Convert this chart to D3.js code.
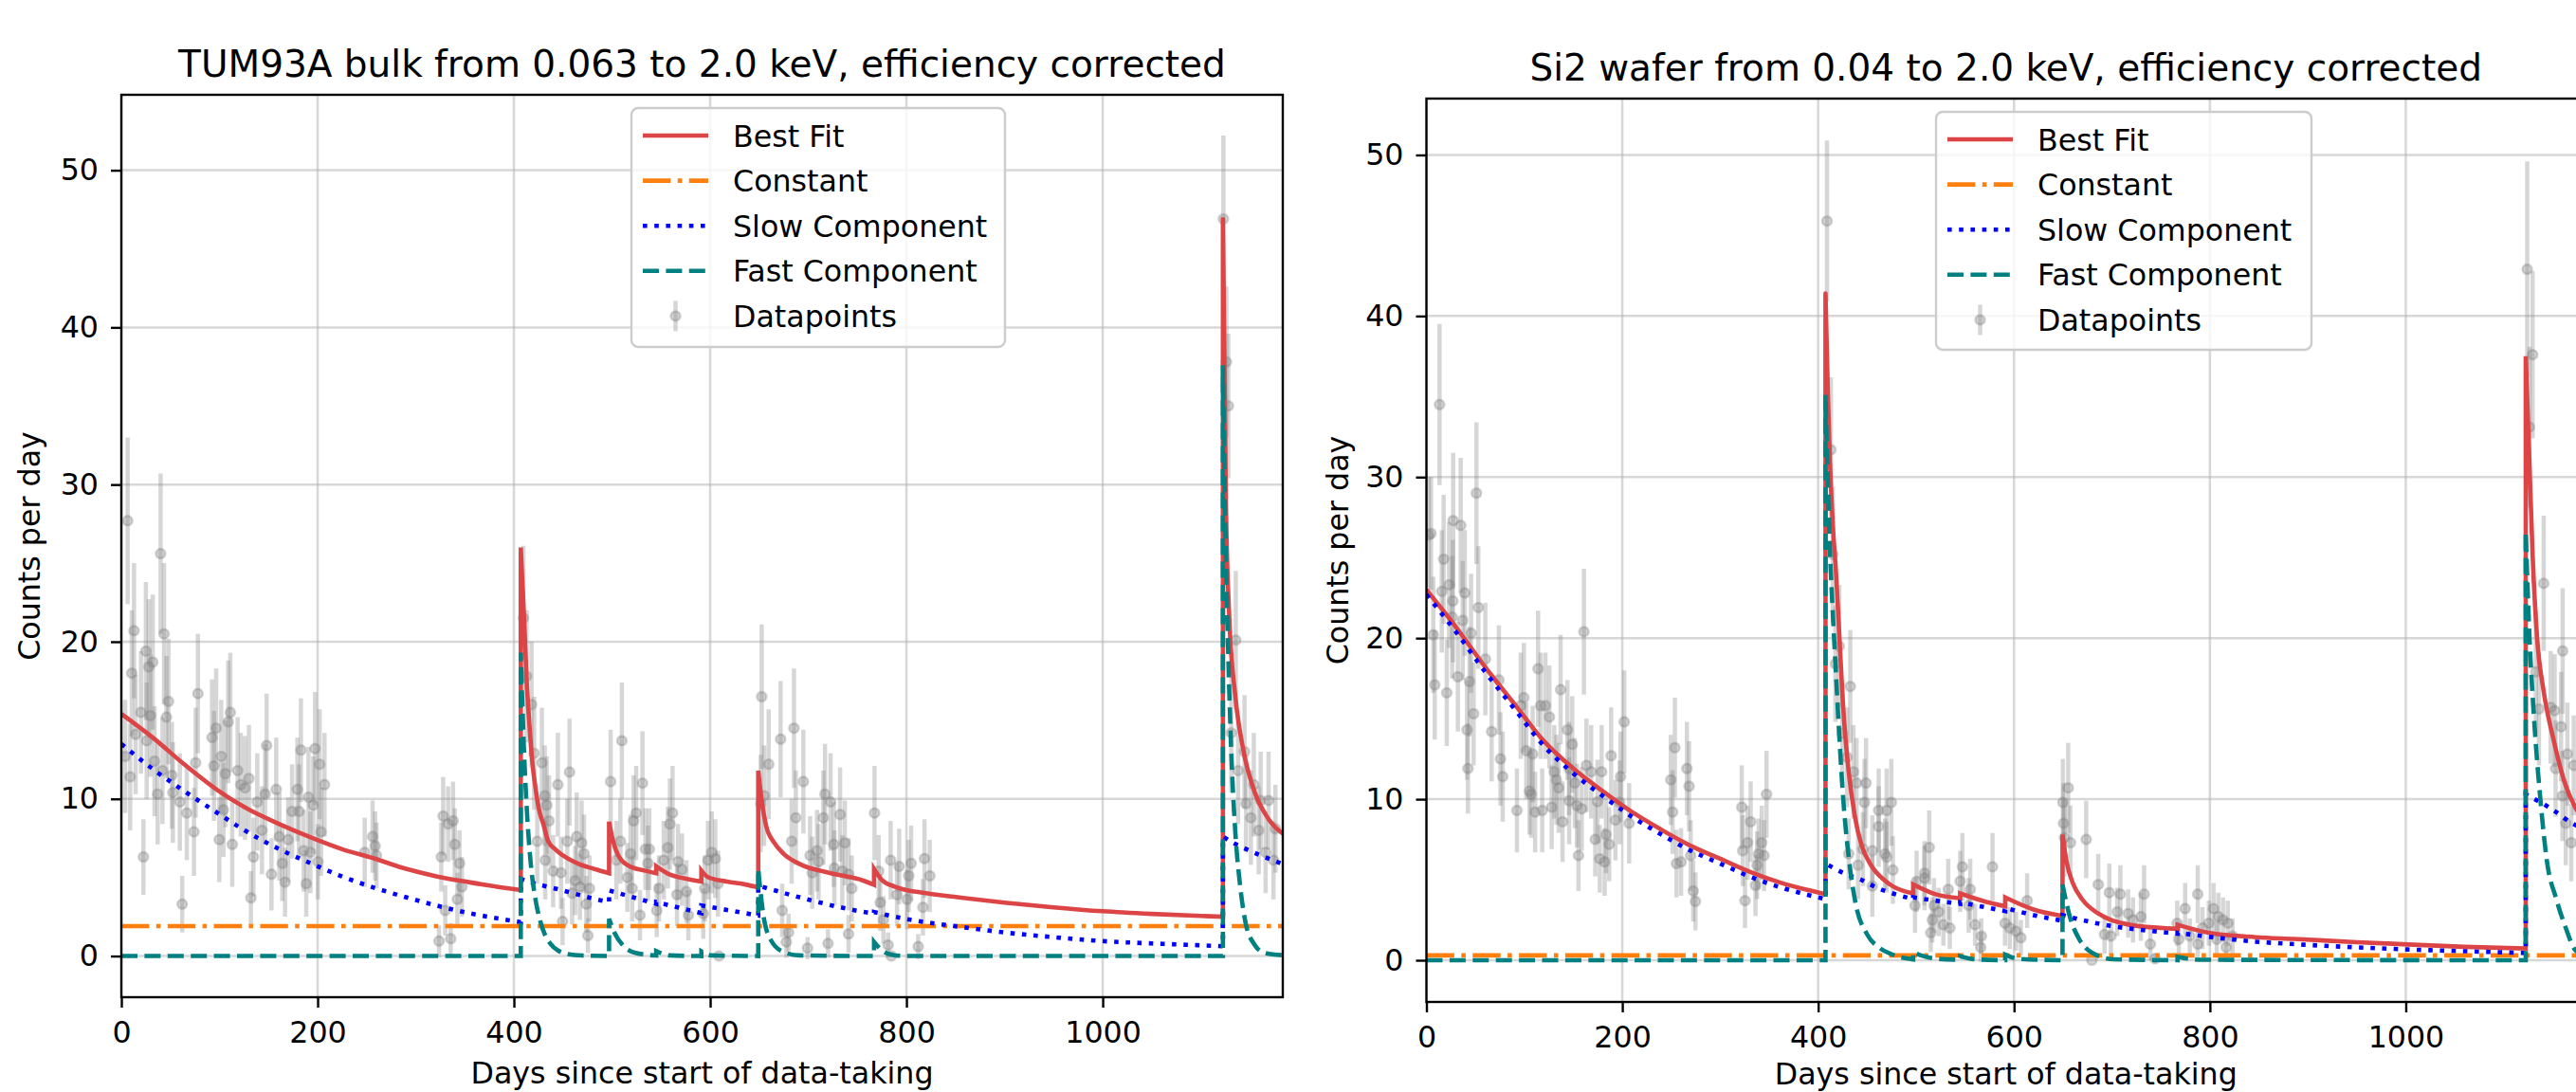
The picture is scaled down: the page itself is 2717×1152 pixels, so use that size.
<!DOCTYPE html>
<html>
<head>
<meta charset="utf-8">
<script src="https://cdn.jsdelivr.net/npm/d3@7"></script>
<style>
  body { margin: 0; background: #fff; }
  svg { display: block; font-family: 'DejaVu Sans', sans-serif; }
</style>
</head>
<body>
<div id="chart"></div>
<script>
// ---- data ----
const xTicks = [0, 200, 400, 600, 800, 1000];
const yTicks = [0, 10, 20, 30, 40, 50];
const legendLabels = ['Best Fit', 'Constant', 'Slow Component', 'Fast Component', 'Datapoints'];
const titles = [
    'TUM93A bulk from 0.063 to 2.0 keV, efficiency corrected',
    'Si2 wafer from 0.04 to 2.0 keV, efficiency corrected'
];
const xLabel = 'Days since start of data-taking';
const yLabel = 'Counts per day';

// curves: [day, counts/day]; a repeated day marks a jump
const leftBestFit = [
    [0, 15.4], [32, 13.9], [64, 12.2], [97, 10.6], [129, 9.35], [161, 8.4], [193, 7.55], [225, 6.8],
    [258, 6.2], [290, 5.55], [322, 5.06], [354, 4.7], [386, 4.38], [407, 4.2],
    [407, 26.0], [410.5, 21.3], [413, 17.5], [415.5, 15.0], [419, 12.2], [422, 10.7], [426, 9.2],
    [430, 8.4], [435, 7.3], [442, 6.8], [450, 6.4], [466, 5.86], [482, 5.54], [497, 5.27],
    [497, 8.55], [501, 7.34], [507.5, 6.28], [520, 5.65], [533, 5.44], [545, 5.27],
    [545, 5.71], [559, 5.18], [572, 4.97], [591, 4.74],
    [591, 5.44], [598, 5.01], [617, 4.74], [636, 4.55], [649, 4.38],
    [649, 11.8], [652.5, 9.9], [657, 8.3], [665, 7.23], [675, 6.5], [691, 5.86], [723, 5.27], [756, 4.8], [767, 4.53],
    [767, 5.54], [775, 4.84], [788, 4.42], [820, 4.0], [852, 3.74], [900, 3.4], [950, 3.1],
    [1000, 2.85], [1050, 2.68], [1100, 2.55], [1122.5, 2.5],
    [1122.5, 47.0], [1124, 38.0], [1125.6, 28.7], [1128.8, 21.8], [1135, 16.6], [1143, 13.2],
    [1155, 10.4], [1166, 9.0], [1180, 7.96], [1183.5, 7.8]
];
const leftConstant = [[0, 1.9], [1183.5, 1.9]];
const leftSlow = [
    [0, 13.5], [32, 11.9], [64, 10.5], [97, 9.14], [129, 7.87], [161, 6.8], [193, 5.9], [225, 5.06],
    [258, 4.34], [290, 3.74], [322, 3.2], [354, 2.73], [386, 2.37], [407, 2.16],
    [407, 4.9], [417, 4.7], [450, 4.17], [482, 3.64], [497, 3.43],
    [497, 4.17], [545, 3.32],
    [545, 3.43], [591, 2.73],
    [591, 3.22], [649, 2.58],
    [649, 4.48], [691, 3.74], [740, 3.0], [767, 2.69],
    [767, 2.8], [804, 2.31], [852, 1.88], [900, 1.5], [950, 1.2], [1000, 0.95], [1050, 0.8], [1100, 0.68], [1122.5, 0.62],
    [1122.5, 7.6], [1133, 7.2], [1150, 6.7], [1165, 6.3], [1183.5, 5.85]
];
const leftFast = [
    [0, 0], [407, 0],
    [407, 19.3], [410, 13.5], [413, 9.5], [417, 6.0], [422, 3.6], [427, 2.2], [432, 1.3], [437, 0.8],
    [445, 0.35], [455, 0.12], [470, 0.03], [497, 0],
    [497, 2.37], [503, 1.42], [511, 0.68], [524, 0.2], [545, 0.03],
    [545, 0.32], [559, 0.04], [591, 0],
    [591, 0.3], [601, 0.04], [649, 0],
    [649, 5.54], [654, 2.7], [662, 1.0], [675, 0.25], [691, 0.04], [767, 0],
    [767, 0.9], [775, 0.36], [785, 0.08], [800, 0], [1122.5, 0],
    [1122.5, 37.6], [1125, 27], [1128, 19], [1131, 13], [1135, 8], [1140, 4.5], [1146, 2.0],
    [1155, 0.7], [1165, 0.2], [1183.5, 0.05]
];
// datapoints: [day, counts/day, error]
const leftPoints = [
    [3.9, 12.7, 3.6], [6.4, 27.7, 5.3], [9, 11.4, 3.4], [10.6, 18.0, 4.0], [12.9, 20.7, 4.3], [14.5, 14.1, 3.8],
    [20, 15.5, 3.9], [22.5, 6.3, 2.4], [25, 19.4, 4.4], [25.8, 13.7, 3.7], [28, 18.4, 4.3], [29.6, 15.3, 3.9],
    [32, 18.7, 4.3], [33.8, 12.4, 3.5], [37, 10.3, 3.2], [40, 25.6, 5.1], [41.9, 11.8, 3.4], [43.5, 20.5, 4.5],
    [46, 15.2, 3.9], [48, 16.2, 4.0], [51.5, 11.5, 3.4], [52.5, 10.4, 3.2], [59.6, 9.8, 3.1], [62, 3.3, 1.8],
    [66.7, 9.1, 3.0], [74, 7.9, 2.8], [75.7, 12.3, 3.5], [78, 16.7, 3.8], [92.4, 13.9, 3.7], [94.4, 12.1, 3.5],
    [96.6, 14.5, 3.8], [99.8, 7.4, 2.7], [101.8, 12.7, 3.6], [104, 9.3, 3.0], [106, 11.6, 3.4], [108.9, 14.9, 3.9],
    [111, 15.5, 3.8], [113, 7.1, 2.7], [118.5, 11.8, 3.4], [121.7, 10.9, 3.3], [126, 10.7, 3.3], [130, 11.3, 3.4],
    [132, 3.7, 1.7], [134.6, 6.3, 2.5], [138.5, 9.8, 3.1], [143.3, 8.0, 2.8], [146.5, 10.3, 3.2], [148, 13.4, 3.3],
    [153, 5.2, 2.3], [157.8, 10.6, 3.3], [161, 7.6, 2.8], [164, 5.9, 2.4], [166.8, 4.7, 2.2], [170, 7.4, 2.7],
    [174, 9.2, 3.0], [179.4, 10.6, 3.3], [181, 9.2, 3.0], [183, 13.1, 3.3], [185.8, 6.7, 2.6], [188.4, 4.6, 2.1],
    [190.7, 10.1, 3.2], [192.6, 6.6, 2.6], [195.5, 9.6, 3.1], [197.4, 13.2, 3.6], [200.3, 6.0, 2.4], [202, 12.2, 3.5],
    [203.5, 7.9, 2.8], [207, 10.9, 3.3],
    [248, 6.6, 2.2], [256, 7.6, 2.3], [258.6, 7.0, 2.2], [260, 6.4, 2.1],
    [323.7, 0.95, 1.0], [326, 6.3, 2.2], [327.9, 8.9, 2.5], [330, 2.9, 1.6], [333, 8.4, 2.4], [335.6, 1.1, 1.0],
    [338, 8.6, 2.5], [339.8, 7.1, 2.3], [342.4, 3.6, 1.7], [344.6, 5.9, 2.1], [347, 4.4, 1.9],
    [409.7, 21.5, 4.6], [412.9, 17.8, 4.2], [418, 16.0, 4.0], [420.6, 12.9, 3.6], [423.8, 7.3, 2.7], [428.5, 12.3, 3.5],
    [431.5, 10.2, 3.2], [431.9, 6.1, 2.5], [433.5, 9.6, 3.1], [435.8, 8.6, 2.9], [440, 5.4, 2.3], [444.8, 10.9, 3.3],
    [448, 5.3, 2.3], [449.6, 2.2, 1.5], [454.4, 7.3, 2.7], [456.7, 11.7, 3.4], [459.3, 4.0, 2.0], [462.5, 4.8, 2.2],
    [464, 7.6, 2.8], [467.3, 4.4, 2.1], [469, 7.2, 2.7], [471.5, 6.5, 2.5], [473.8, 3.3, 1.8], [475.4, 1.3, 1.1],
    [477, 4.3, 2.1],
    [498.6, 11.1, 3.3], [504.4, 6.1, 2.5], [508.5, 7.3, 2.7], [510, 13.7, 3.7], [515.6, 5.0, 2.2], [518.9, 6.5, 2.5],
    [520.5, 4.3, 2.1], [522, 8.6, 2.9], [524.6, 9.1, 3.0], [528.5, 2.6, 1.6], [531, 11.0, 3.3], [534, 6.8, 2.6],
    [536.6, 5.9, 2.4], [538, 6.8, 2.6], [545.6, 2.9, 1.7], [547.8, 4.3, 2.1], [552.7, 6.1, 2.5], [556.9, 6.9, 2.6],
    [559, 8.4, 2.9], [561.7, 9.1, 3.0], [566.2, 3.9, 2.0], [567.2, 6.0, 2.4], [571.3, 5.5, 2.3], [575.8, 4.1, 2.0],
    [577.8, 2.6, 1.6],
    [593, 2.7, 1.6], [594.5, 4.3, 2.1], [597.8, 6.1, 2.5], [601.6, 6.6, 2.6], [605.2, 6.2, 2.5], [608, 4.6, 2.1],
    [609, 0.0, 0],
    [651.5, 9.7, 3.1], [652.5, 16.5, 4.6], [655, 10.2, 3.2], [659.6, 12.2, 3.5], [671.8, 13.8, 3.7], [673.4, 2.9, 1.7],
    [677.6, 0.9, 1.0], [679.9, 1.5, 1.2], [683, 7.3, 2.7], [685.4, 14.5, 3.8], [687.3, 8.8, 3.0], [695, 11.1, 3.3],
    [699.2, 0.5, 0.7], [701.8, 6.4, 2.5], [704, 5.3, 2.3], [708.9, 6.7, 2.6], [710.5, 6.0, 2.4], [715.3, 8.8, 3.0],
    [717, 10.3, 3.2], [720.1, 0.8, 0.9], [722.7, 9.8, 3.1], [726, 7.1, 2.7], [726.6, 5.6, 2.4], [732.4, 9.0, 3.0],
    [734.6, 5.4, 2.3], [737.2, 7.2, 2.7], [741, 5.2, 2.3], [741, 1.4, 1.2], [744.3, 4.3, 2.1],
    [767.5, 9.1, 3.0], [771.7, 5.4, 2.3], [773.3, 3.4, 1.8], [776.5, 2.3, 1.5], [781.3, 0.7, 0.8], [783.9, 6.1, 2.5],
    [784.6, 0.0, 0], [790.4, 3.9, 2.0], [792.6, 5.7, 2.4], [800.7, 3.6, 1.9], [802.3, 5.1, 2.3], [804.8, 5.9, 2.4],
    [812, 0.6, 0.8], [816.8, 3.1, 1.8], [818.4, 6.2, 2.5], [823.8, 5.1, 2.3],
    [1123, 46.9, 5.3], [1126, 37.8, 4.8], [1128, 35.0, 4.6], [1131, 14.2, 3.8], [1135.6, 20.1, 4.4], [1138, 11.8, 3.4],
    [1144.5, 13.0, 3.6], [1146, 9.7, 3.1], [1151, 8.8, 3.0], [1154, 10.9, 3.3], [1159, 8.0, 2.8], [1161, 9.9, 3.1],
    [1166, 6.6, 2.6], [1169, 9.9, 3.1], [1174, 6.1, 2.5], [1176, 8.1, 2.8]
];

const rightBestFit = [
    [0, 23.0], [30, 20.7], [60, 18.2], [90, 15.9], [120, 13.6], [150, 11.9], [180, 10.5], [210, 9.2], [240, 8.1],
    [270, 7.1], [300, 6.3], [330, 5.5], [360, 4.85], [390, 4.35], [407.5, 4.1],
    [407.5, 41.4], [410, 35.0], [412, 31.0], [415, 27.0], [418.3, 24.0], [421.5, 20.3], [426, 15.3], [431, 11.8],
    [437.6, 8.9], [444, 7.2], [454, 5.9], [467, 5.0], [476, 4.6], [497, 4.15],
    [497, 4.7], [520, 4.1], [545, 3.85],
    [545, 4.15], [570, 3.65], [591, 3.35],
    [591, 3.9], [620, 3.15], [649.5, 2.75],
    [649.5, 7.8], [653.7, 6.1], [660, 4.8], [670, 3.75], [686, 2.9], [718, 2.2], [767, 1.95],
    [767, 2.2], [799, 1.7], [847, 1.43], [886, 1.32], [950, 1.12], [1002, 0.98], [1060, 0.83], [1122.5, 0.73],
    [1122.5, 37.5], [1126, 31.4], [1129.5, 25.2], [1134, 20.1], [1140.8, 16.7], [1150.5, 13.8], [1163, 10.9],
    [1173, 9.5], [1183.5, 8.6]
];
const rightConstant = [[0, 0.3], [1183.5, 0.3]];
const rightSlow = [
    [0, 22.7], [30, 20.4], [60, 17.9], [90, 15.6], [120, 13.3], [150, 11.6], [180, 10.2], [210, 8.9], [240, 7.8],
    [270, 6.8], [300, 6.0], [330, 5.2], [360, 4.55], [390, 4.05], [407.5, 3.8],
    [407.5, 6.0], [430, 5.3], [444, 5.0], [460, 4.5], [476, 4.15], [497, 3.8],
    [497, 3.9], [520, 3.7], [545, 3.5],
    [545, 3.6], [570, 3.3], [591, 3.05],
    [591, 3.25], [620, 2.8], [649.5, 2.45],
    [649.5, 2.8], [680, 2.35], [702, 2.1], [735, 1.85], [767, 1.65],
    [767, 1.7], [800, 1.45], [847, 1.15], [886, 1.0], [950, 0.8], [1002, 0.67], [1060, 0.56], [1122.5, 0.45],
    [1122.5, 10.3], [1150, 9.35], [1170, 8.5], [1183.5, 8.1]
];
const rightFast = [
    [0, 0], [407.5, 0],
    [407.5, 35.1], [410, 29.5], [412, 25.5], [415, 21.5], [418, 18.0], [421.5, 14.0], [425, 10.5], [431, 6.5],
    [438, 3.6], [450, 1.6], [462, 0.8], [476, 0.35], [497, 0.05],
    [497, 0.5], [505, 0.3], [520, 0.1], [545, 0.03],
    [545, 0.25], [560, 0.06], [591, 0],
    [591, 0.35], [605, 0.08], [649.5, 0],
    [649.5, 4.7], [657, 2.7], [666.6, 1.3], [679.5, 0.47], [702, 0.06], [767, 0],
    [767, 0.2], [790, 0.03], [1122.5, 0],
    [1122.5, 26.6], [1126.3, 20.1], [1131, 15.0], [1137.6, 9.9], [1144, 6.2], [1153.7, 3.8], [1163.4, 2.0],
    [1173, 0.64], [1183.5, 0.3]
];
const rightPoints = [
    [2.4, 26.4, 3.6], [4.7, 26.5, 3.5], [7, 20.2, 3.6], [8.5, 17.1, 3.4], [13.4, 34.5, 5.0], [15.7, 22.9, 3.8],
    [17.6, 24.9, 4.0], [20.8, 16.6, 3.3], [23.1, 23.3, 3.9], [26.3, 21.3, 3.8], [27, 22.3, 3.8], [27.3, 27.3, 4.2],
    [32.1, 17.6, 3.4], [35, 27.0, 4.2], [37, 21.1, 3.7], [39.2, 22.8, 3.9], [41.5, 14.3, 3.1], [42.4, 11.9, 2.8],
    [44, 17.3, 3.4], [45.6, 20.3, 3.7], [48.2, 15.3, 3.2], [51.1, 29.0, 4.4], [53, 21.9, 3.8], [60.2, 18.7, 3.5],
    [66.6, 14.2, 3.1], [74, 17.4, 3.4], [75.6, 12.5, 2.9], [77.9, 11.4, 2.8], [92.4, 9.3, 2.6], [96.3, 15.8, 3.3],
    [99.5, 16.3, 3.4], [102, 13.0, 3.0], [105.3, 10.5, 2.7], [107, 10.3, 2.7], [108.5, 12.8, 3.0], [111, 9.2, 2.5],
    [114, 18.1, 3.6], [116.6, 15.8, 3.3], [118.2, 9.3, 2.6], [121.5, 15.8, 3.3], [125.6, 15.1, 3.2], [127.9, 9.5, 2.6],
    [130.5, 11.7, 2.9], [132.7, 11.2, 2.8], [135, 10.7, 2.8], [137, 16.8, 3.4], [139, 8.6, 2.5], [144, 14.3, 3.1],
    [145.7, 11.9, 2.9], [145.7, 9.9, 2.7], [148.9, 13.4, 3.0], [151.5, 11.0, 2.8], [153.7, 9.6, 2.6], [155.3, 6.5, 2.2],
    [158.6, 9.4, 2.6], [160.8, 20.4, 3.9], [163.4, 12.1, 2.9], [168.2, 11.7, 2.9], [172.4, 7.5, 2.3], [174.7, 9.85, 2.6],
    [177, 6.3, 2.1], [178.9, 11.7, 2.9], [182, 6.1, 2.1], [183.4, 7.8, 2.4], [186.6, 7.2, 2.3], [188.6, 12.7, 3.0],
    [193, 8.7, 2.5], [197.3, 9.8, 2.6], [198.2, 11.4, 2.8], [202, 14.8, 3.2], [207, 8.5, 2.5],
    [249.5, 11.2, 2.8], [251.4, 9.2, 2.6], [253.7, 13.2, 3.1], [255.3, 6.0, 2.1], [260, 6.1, 2.1], [266, 11.9, 2.9],
    [268.2, 10.8, 2.8], [269.8, 6.5, 2.2], [272.4, 4.3, 1.9], [274.7, 3.65, 1.8],
    [322, 9.5, 2.6], [323, 6.8, 2.2], [325.3, 3.7, 1.7], [327.9, 7.3, 2.3], [331.1, 8.6, 2.5], [336, 4.65, 1.9],
    [337.6, 5.9, 2.1], [339.2, 6.6, 2.2], [342.4, 7.3, 2.3], [344.7, 6.5, 2.2], [347.3, 10.3, 2.7],
    [409, 45.9, 5.0], [413, 31.7, 4.5], [415, 25.2, 4.2], [417.6, 18.4, 3.6], [421.5, 19.5, 3.8], [424.7, 14.1, 3.3],
    [429.5, 12.6, 3.1], [431.2, 6.6, 2.2], [432.8, 17.0, 3.5], [436, 11.7, 2.9], [439.2, 11.0, 2.8], [440.8, 5.9, 2.1],
    [445.7, 6.9, 2.3], [447.3, 9.8, 2.7], [448.9, 11.0, 2.8], [455.3, 6.8, 2.2], [455.3, 4.6, 1.9], [461.8, 9.3, 2.6],
    [461.8, 8.3, 2.5], [468.3, 6.6, 2.2], [469.9, 9.3, 2.6], [469.9, 6.4, 2.2], [474.7, 9.8, 2.7], [476.3, 5.6, 2.1],
    [498.9, 3.4, 1.7], [500.5, 4.9, 1.9], [508.6, 5.4, 2.0], [508.6, 5.1, 2.0], [513.4, 7.0, 2.3], [515, 1.7, 1.2],
    [516.6, 2.5, 1.4], [518.3, 3.4, 1.7], [523, 3.0, 1.5], [527.9, 2.2, 1.3], [532.8, 4.4, 1.9], [534.4, 2.0, 1.3],
    [545, 4.9, 1.9], [547.3, 5.8, 2.1], [553.7, 3.4, 1.7], [555.3, 4.4, 1.9], [560.2, 2.2, 1.3], [566, 0.8, 0.9],
    [566.6, 1.5, 1.1], [578, 5.8, 2.1], [590.8, 2.3, 1.4], [595.7, 2.0, 1.3], [602, 1.8, 1.2], [607, 1.4, 1.1],
    [613.4, 3.7, 1.7],
    [649.9, 9.8, 2.7], [650.5, 8.5, 2.5], [651.5, 7.6, 2.4], [655.3, 10.7, 2.8], [657.6, 7.3, 2.3], [673.7, 7.5, 2.4],
    [679.5, 0.0, 0], [686, 4.7, 1.9], [692.4, 1.6, 1.2], [697.3, 4.2, 1.8], [698.9, 1.5, 1.1], [705.4, 3.0, 1.5],
    [708.6, 4.1, 1.8], [716.6, 2.9, 1.5], [721.5, 2.5, 1.4], [729.5, 2.7, 1.5], [732.8, 4.1, 1.8], [739.2, 1.0, 1.0],
    [744, 0.1, 0.3],
    [766.6, 2.3, 1.4], [768.2, 1.3, 1.1], [774.7, 3.2, 1.6], [779.5, 1.5, 1.1], [787.6, 4.1, 1.8], [787.6, 1.0, 1.0],
    [792.4, 2.0, 1.3], [798.9, 2.3, 1.4], [803.7, 3.2, 1.6], [807, 1.3, 1.1], [808.6, 2.7, 1.5], [813.4, 2.5, 1.4],
    [816.6, 0.8, 0.9], [818.3, 2.3, 1.4], [823.1, 1.5, 1.1],
    [1124, 42.9, 6.7], [1126.3, 33.1, 5.0], [1129.5, 37.6, 5.2], [1132.8, 17.9, 3.8], [1136, 15.6, 3.5],
    [1140.8, 23.4, 4.2], [1148, 15.7, 3.5], [1152, 15.5, 3.5], [1153, 11.9, 3.0], [1158.6, 14.5, 3.4],
    [1160, 10.2, 2.8], [1160.2, 19.2, 3.9], [1163.4, 8.5, 2.6], [1165, 12.8, 3.2], [1169, 7.3, 2.4], [1171.5, 12.1, 3.1]
];

// ---- layout / style ----
const W = 2717, H = 1152;
const LW = 4.6;
const FONT = 31.7;
const series = [
    { key: 'best', color: '#dc4446', dash: null },
    { key: 'constant', color: '#ff7f0e', dash: '29.4 7.4 4.6 7.4' },
    { key: 'slow', color: '#0000ff', dash: '4.6 7.6' },
    { key: 'fast', color: '#008080', dash: '17 7.4' }
];
const pointColor = '#808080';

const panels = [
    {
        title: titles[0], left: 128, right: 1353, top: 100, bottom: 1052, yDomain: [-2.62, 54.8],
        titleY: 81, yLabelX: 42, xLabelY: 1143, legend: { x: 666, y: 114, w: 394, h: 252 },
        best: leftBestFit, constant: leftConstant, slow: leftSlow, fast: leftFast, points: leftPoints
    },
    {
        title: titles[1], left: 1504.5, right: 2727, top: 104, bottom: 1057, yDomain: [-2.59, 53.5],
        titleY: 85, yLabelX: 1422, xLabelY: 1144, legend: { x: 2042, y: 118, w: 396, h: 251 },
        best: rightBestFit, constant: rightConstant, slow: rightSlow, fast: rightFast, points: rightPoints
    }
];

const svg = d3.select('#chart')
    .append('svg')
    .attr('width', W)
    .attr('height', H);

svg.append('rect').attr('width', W).attr('height', H).attr('fill', '#fff');

// split at repeated days so each smooth piece is interpolated on its own
function segments(pts) {
    const segs = [[pts[0]]];
    for (let i = 1; i < pts.length; i++) {
        if (pts[i][0] <= pts[i - 1][0]) segs.push([pts[i]]);
        else segs[segs.length - 1].push(pts[i]);
    }
    return segs;
}

function drawPanel(p, idx) {
    const x = d3.scaleLinear().domain([0, 1183.5]).range([p.left, p.right]);
    const y = d3.scaleLinear().domain(p.yDomain).range([p.bottom, p.top]);
    const g = svg.append('g');

    const clipId = 'clip' + idx;
    g.append('clipPath').attr('id', clipId)
        .append('rect')
        .attr('x', p.left).attr('y', p.top)
        .attr('width', p.right - p.left).attr('height', p.bottom - p.top);

    const plot = g.append('g').attr('clip-path', `url(#${clipId})`);

    // grid
    plot.selectAll('.vgrid').data(xTicks).join('line')
        .attr('x1', d => x(d)).attr('x2', d => x(d))
        .attr('y1', p.top).attr('y2', p.bottom)
        .attr('stroke', '#b0b0b0').attr('stroke-opacity', 0.5).attr('stroke-width', 2.5);
    plot.selectAll('.hgrid').data(yTicks).join('line')
        .attr('x1', p.left).attr('x2', p.right)
        .attr('y1', d => y(d)).attr('y2', d => y(d))
        .attr('stroke', '#b0b0b0').attr('stroke-opacity', 0.5).attr('stroke-width', 2.5);

    // datapoints with error bars
    plot.append('g').selectAll('line').data(p.points).join('line')
        .attr('x1', d => x(d[0])).attr('x2', d => x(d[0]))
        .attr('y1', d => y(d[1] - d[2])).attr('y2', d => y(d[1] + d[2]))
        .attr('stroke', pointColor).attr('stroke-opacity', 0.32).attr('stroke-width', 4.5);
    plot.append('g').selectAll('circle').data(p.points).join('circle')
        .attr('cx', d => x(d[0])).attr('cy', d => y(d[1])).attr('r', 5)
        .attr('fill', pointColor).attr('fill-opacity', 0.32)
        .attr('stroke', pointColor).attr('stroke-opacity', 0.32).attr('stroke-width', 2.5);

    // fit curves
    const line = d3.line()
        .x(d => x(d[0]))
        .y(d => y(d[1]))
        .curve(d3.curveMonotoneX);

    series.forEach(s => {
        const path = segments(p[s.key])
            .map((seg, i) => {
                const d = line(seg);
                return i ? d.replace(/^M/, 'L') : d;
            })
            .join('');
        plot.append('path')
            .attr('d', path)
            .attr('fill', 'none')
            .attr('stroke', s.color)
            .attr('stroke-width', LW)
            .attr('stroke-dasharray', s.dash);
    });

    // axes
    g.append('g')
        .attr('transform', `translate(0,${p.bottom})`)
        .call(d3.axisBottom(x).tickValues(xTicks).tickSize(11).tickPadding(14).tickFormat(d3.format('d')))
        .call(a => a.select('.domain').remove())
        .call(a => a.selectAll('line').attr('stroke', '#000').attr('stroke-width', 2.4))
        .call(a => a.selectAll('text').attr('fill', '#000').attr('font-size', FONT).attr('font-family', 'DejaVu Sans'));

    g.append('g')
        .attr('transform', `translate(${p.left},0)`)
        .call(d3.axisLeft(y).tickValues(yTicks).tickSize(11).tickPadding(13).tickFormat(d3.format('d')))
        .call(a => a.select('.domain').remove())
        .call(a => a.selectAll('line').attr('stroke', '#000').attr('stroke-width', 2.4))
        .call(a => a.selectAll('text').attr('fill', '#000').attr('font-size', FONT).attr('font-family', 'DejaVu Sans'));

    g.append('rect')
        .attr('x', p.left).attr('y', p.top)
        .attr('width', p.right - p.left).attr('height', p.bottom - p.top)
        .attr('fill', 'none').attr('stroke', '#000').attr('stroke-width', 2.4);

    // title and axis labels
    g.append('text')
        .attr('x', (p.left + p.right) / 2).attr('y', p.titleY)
        .attr('text-anchor', 'middle').attr('font-size', 39)
        .text(p.title);
    g.append('text')
        .attr('x', (p.left + p.right) / 2).attr('y', p.xLabelY)
        .attr('text-anchor', 'middle').attr('font-size', FONT)
        .text(xLabel);
    g.append('text')
        .attr('transform', `translate(${p.yLabelX},${(p.top + p.bottom) / 2}) rotate(-90)`)
        .attr('text-anchor', 'middle').attr('font-size', FONT)
        .text(yLabel);

    // legend
    const L = p.legend;
    const lg = g.append('g').attr('transform', `translate(${L.x},${L.y})`);
    lg.append('rect')
        .attr('width', L.w).attr('height', L.h).attr('rx', 7)
        .attr('fill', '#fff').attr('fill-opacity', 0.8)
        .attr('stroke', '#cccccc').attr('stroke-width', 2.4);

    legendLabels.forEach((label, i) => {
        const cy = 29 + i * 47.6;
        if (i < series.length) {
            lg.append('line')
                .attr('x1', 12).attr('x2', 81).attr('y1', cy).attr('y2', cy)
                .attr('stroke', series[i].color).attr('stroke-width', LW)
                .attr('stroke-dasharray', series[i].dash);
        } else {
            lg.append('line')
                .attr('x1', 46.5).attr('x2', 46.5).attr('y1', cy - 16).attr('y2', cy + 16)
                .attr('stroke', pointColor).attr('stroke-opacity', 0.32).attr('stroke-width', 4.5);
            lg.append('circle')
                .attr('cx', 46.5).attr('cy', cy).attr('r', 5)
                .attr('fill', pointColor).attr('fill-opacity', 0.32)
                .attr('stroke', pointColor).attr('stroke-opacity', 0.32).attr('stroke-width', 2.5);
        }
        lg.append('text')
            .attr('x', 107).attr('y', cy + 11.5)
            .attr('font-size', FONT)
            .text(label);
    });
}

panels.forEach(drawPanel);
</script>
</body>
</html>
